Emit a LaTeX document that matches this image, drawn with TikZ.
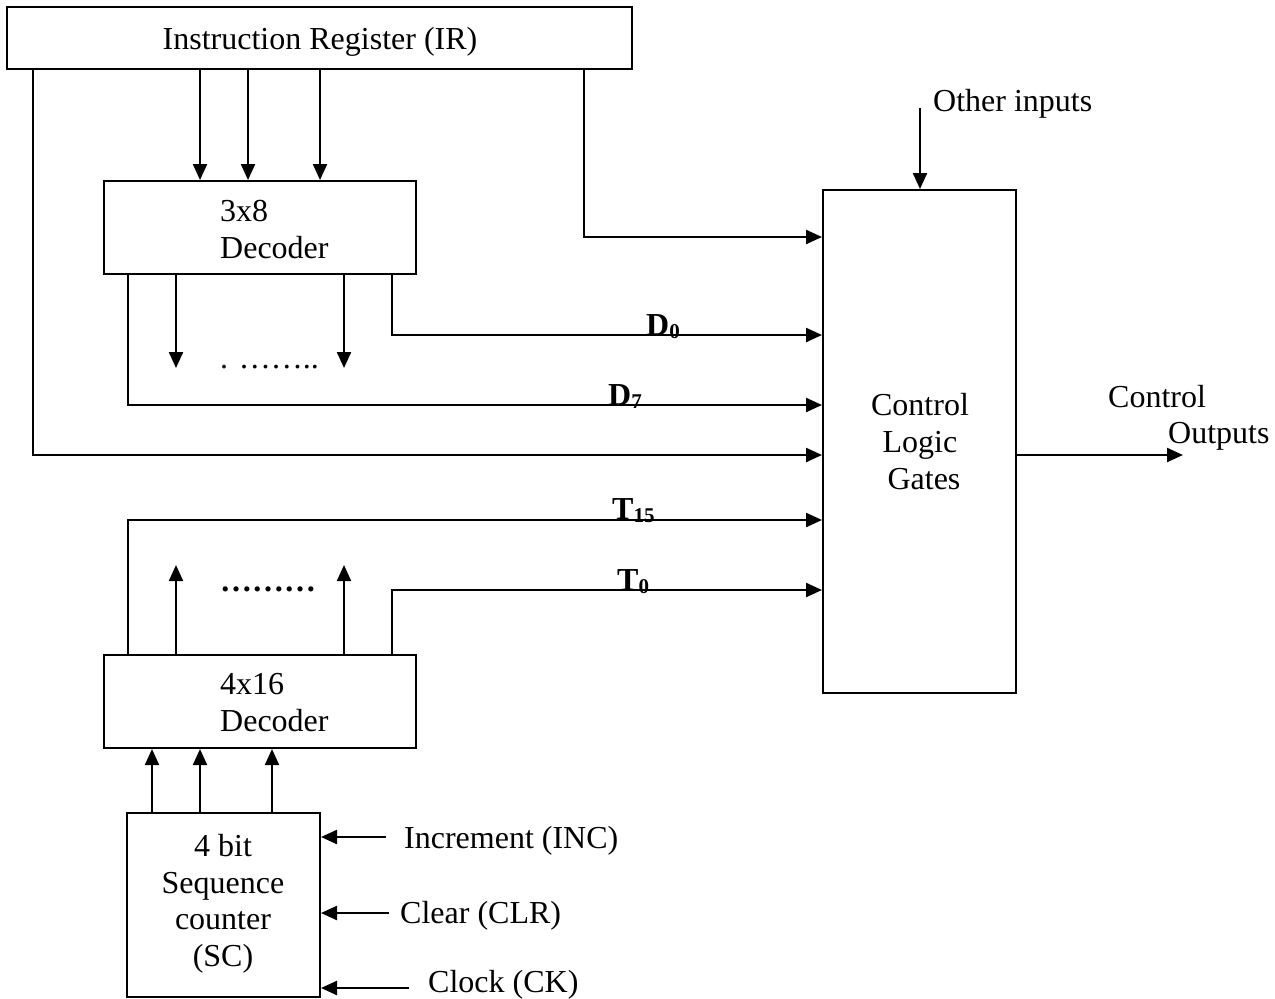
\documentclass[tikz,border=0pt]{standalone}
\usepackage{fontspec}
\setmainfont{Liberation Serif}
\usetikzlibrary{arrows.meta}
\begin{document}
\begin{tikzpicture}[x=1pt,y=-1pt,
  wire/.style={line width=2.3pt},
  arr/.style={wire,-{Triangle[length=16pt,width=14pt]}},
  box/.style={draw,line width=2pt,inner sep=0pt},
  txt/.style={font=\fontsize{32}{37}\selectfont, inner sep=0pt},
  lbl/.style={font=\fontsize{32}{37}\selectfont\bfseries, inner sep=0pt}]
\useasboundingbox (0,0) rectangle (1275,999);

% boxes
\node[box,minimum width=625,minimum height=62] (ir) at (319.5,38) {};
\node[box,minimum width=312,minimum height=93] (dA) at (260,227.5) {};
\node[box,minimum width=312,minimum height=93] (dB) at (260,701.5) {};
\node[box,minimum width=193,minimum height=184] (sc) at (223.5,905) {};
\node[box,minimum width=193,minimum height=503] (ctl) at (919.5,441.5) {};

% texts
\node[txt,anchor=base] (irt) at (320,49) {Instruction Register (IR)};
\node[txt,anchor=base west] (dAa) at (220,221) {3x8};
\node[txt,anchor=base west] (dAb) at (220,258) {Decoder};
\node[txt,anchor=base west] (dBa) at (220,694) {4x16};
\node[txt,anchor=base west] (dBb) at (220,731) {Decoder};
\node[txt,anchor=base] (sca) at (223,856) {4 bit};
\node[txt,anchor=base] (scb) at (223,893) {Sequence};
\node[txt,anchor=base] (scc) at (223,929) {counter};
\node[txt,anchor=base] (scd) at (223,966) {(SC)};
\node[txt,anchor=base] (ctla) at (920,415) {Control};
\node[txt,anchor=base] (ctlb) at (920,452) {Logic};
\node[txt,anchor=base] (ctlc) at (924,489) {Gates};
\node[txt,anchor=base west] (couta) at (1108,407) {Control};
\node[txt,anchor=base west] (coutb) at (1168,443) {Outputs};
\node[txt,anchor=base west] (oint) at (933,111) {Other inputs};
\node[txt,anchor=base west] (inct) at (404,848) {Increment (INC)};
\node[txt,anchor=base west] (clrt) at (400,923) {Clear (CLR)};
\node[txt,anchor=base west] (ckt) at (428,992) {Clock (CK)};
\node[txt,anchor=base west] (dotsA) at (220,368) {. ……..};
\node[lbl,anchor=base west] (dotsB) at (220,591) {………};

% signal labels
\node[lbl,anchor=base west] (lD0) at (646,335) {D{\fontsize{21}{21}\selectfont\raisebox{-3pt}{0}}};
\node[lbl,anchor=base west] (lD7) at (608,405) {D{\fontsize{21}{21}\selectfont\raisebox{-3pt}{7}}};
\node[lbl,anchor=base west] (lT15) at (612,519) {T{\fontsize{21}{21}\selectfont\raisebox{-3pt}{15}}};
\node[lbl,anchor=base west] (lT0) at (617,590) {T{\fontsize{21}{21}\selectfont\raisebox{-3pt}{0}}};

% free ends
\coordinate (a1) at (176,368);
\coordinate (a2) at (344,368);
\coordinate (b1) at (176,565);
\coordinate (b2) at (344,565);
\coordinate (oin) at (920,108);
\coordinate (cout) at (1183,455);
\coordinate (inc) at (386,837);
\coordinate (clr) at (389,913);
\coordinate (ck) at (409,988);

% IR to 3x8 decoder
\draw[arr] (200,0 |- ir.south) -- (200,0 |- dA.north);
\draw[arr] (248,0 |- ir.south) -- (248,0 |- dA.north);
\draw[arr] (320,0 |- ir.south) -- (320,0 |- dA.north);
% IR to control
\draw[arr] (33,0 |- ir.south) |- (ctl.west |- 0,455);
\draw[arr] (584,0 |- ir.south) |- (ctl.west |- 0,237);
% 3x8 outputs
\draw[arr] (a1 |- dA.south) -- (a1);
\draw[arr] (a2 |- dA.south) -- (a2);
\draw[arr] (128,0 |- dA.south) |- (ctl.west |- 0,405);
\draw[arr] (392,0 |- dA.south) |- (ctl.west |- 0,335);
% 4x16 outputs
\draw[arr] (b1 |- dB.north) -- (b1);
\draw[arr] (b2 |- dB.north) -- (b2);
\draw[arr] (128,0 |- dB.north) |- (ctl.west |- 0,520);
\draw[arr] (392,0 |- dB.north) |- (ctl.west |- 0,590);
% SC to 4x16
\draw[arr] (152,0 |- sc.north) -- (152,0 |- dB.south);
\draw[arr] (200,0 |- sc.north) -- (200,0 |- dB.south);
\draw[arr] (272,0 |- sc.north) -- (272,0 |- dB.south);
% SC inputs
\draw[arr] (inc) -- (sc.east |- inc);
\draw[arr] (clr) -- (sc.east |- clr);
\draw[arr] (ck) -- (sc.east |- ck);
% control in/out
\draw[arr] (oin) -- (oin |- ctl.north);
\draw[arr] (ctl.east |- cout) -- (cout);
\end{tikzpicture}
\end{document}
